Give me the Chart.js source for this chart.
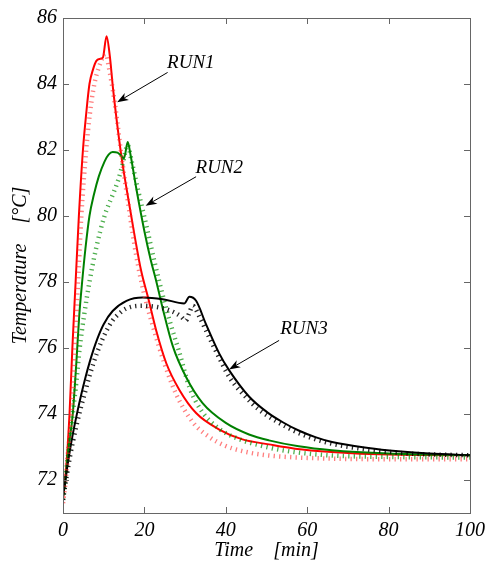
<!DOCTYPE html>
<html>
<head>
<meta charset="utf-8">
<script src="https://cdn.jsdelivr.net/npm/chart.js@4.4.1/dist/chart.umd.min.js"></script>
<style>
  html, body { margin: 0; padding: 0; background: #fff; }
  canvas { display: block; }
</style>
</head>
<body>
<canvas id="tempChart" width="491" height="567"></canvas>
<script>
/* ---------- DATA ---------- */
const xTicks = [0, 20, 40, 60, 80, 100];
const yTicks = [72, 74, 76, 78, 80, 82, 84, 86];

// RUN1 (red)
const run1SolidT = [0, 0.4, 0.8, 1.6, 2.3, 3.1, 3.9, 4.9, 5.7, 6.5, 7.4, 8.2, 9.0, 9.8, 10.7, 11.5, 12.3, 14.3, 15.6, 17.6, 19.2, 20.9, 22.9, 25.4, 28.6, 32.7, 38.4, 44.1, 50.6, 57, 66, 80, 100];
const run1SolidV = [71.4, 71.9, 72.4, 74.0, 76.0, 78.0, 80.0, 82.0, 83.1, 84.0, 84.45, 84.7, 84.76, 84.8, 85.45, 84.85, 83.85, 81.85, 80.84, 79.4, 78.34, 77.53, 76.53, 75.53, 74.73, 74.03, 73.53, 73.23, 73.08, 72.95, 72.85, 72.77, 72.75];
const run1DotT = [0, 0.6, 1.2, 2.2, 2.9, 3.7, 4.5, 5.7, 6.6, 7.7, 8.8, 10.0, 10.6, 11.2, 12.7, 14.5, 16, 18, 20, 22, 25, 28, 31.9, 36, 40, 45, 50, 60, 80, 100];
const run1DotV = [71.3, 71.9, 72.8, 74.2, 76.0, 78.0, 80.0, 82.0, 83.1, 84.0, 84.5, 84.85, 84.9, 84.55, 83.45, 81.7, 80.4, 78.8, 77.6, 76.7, 75.5, 74.55, 73.75, 73.3, 73.03, 72.85, 72.75, 72.67, 72.63, 72.63];

// RUN2 (green)
const run2SolidT = [0, 0.5, 1.3, 2.4, 3.3, 4.0, 4.7, 5.5, 6.5, 7.6, 8.8, 10.2, 11.2, 12.2, 13.4, 14.5, 15.0, 15.9, 16.6, 18.0, 20.0, 21.5, 22.9, 24.5, 27.0, 30.2, 34.3, 40, 45.7, 50.6, 57.9, 66, 80, 100];
const run2SolidV = [71.5, 71.9, 72.9, 74.0, 75.6, 77.0, 78.0, 79.0, 80.0, 80.65, 81.2, 81.65, 81.86, 81.94, 81.92, 81.8, 81.75, 82.24, 81.85, 80.84, 79.54, 78.7, 78.03, 77.2, 76.05, 75.13, 74.33, 73.73, 73.38, 73.2, 73.02, 72.9, 72.8, 72.75];
const run2DotT = [0, 0.7, 1.5, 2.4, 3.3, 4.1, 5.2, 6.5, 8.1, 10.2, 12.2, 13.6, 14.7, 15.9, 16.8, 18.5, 20.5, 22.5, 24.5, 26.5, 28.5, 31.1, 34, 38.4, 43, 49, 55, 65, 80, 100];
const run2DotV = [71.4, 72.2, 73.0, 74.0, 75.0, 76.0, 77.0, 78.0, 79.0, 80.0, 80.64, 81.1, 81.6, 82.15, 81.7, 80.75, 79.7, 78.6, 77.6, 76.7, 75.9, 74.8, 74.1, 73.55, 73.25, 73.03, 72.88, 72.75, 72.7, 72.68];

// RUN3 (black)
const run3SolidT = [0, 0.5, 1.0, 1.7, 2.5, 3.5, 4.5, 5.5, 6.5, 7.5, 8.5, 10, 12.2, 15.6, 19.6, 24.5, 29.8, 31.05, 32.7, 35.1, 38.4, 40.8, 45.7, 50.2, 54, 57.9, 62, 66.1, 75, 82.4, 90, 100];
const run3SolidV = [71.5, 71.9, 72.35, 72.9, 73.45, 74.05, 74.6, 75.1, 75.55, 75.95, 76.3, 76.72, 77.12, 77.43, 77.53, 77.48, 77.35, 77.55, 77.43, 76.73, 75.83, 75.33, 74.53, 74.05, 73.75, 73.5, 73.3, 73.15, 72.97, 72.87, 72.8, 72.75];
const run3DotT = [0, 0.5, 1.0, 1.7, 2.5, 3.5, 4.5, 5.5, 6.5, 7.5, 8.5, 10, 12, 13.6, 15.6, 19.6, 24, 27, 29, 30.2, 31.0, 31.9, 33.5, 35.9, 38.4, 40.8, 45, 48.2, 55, 60, 66, 75, 85, 100];
const run3DotV = [71.4, 71.8, 72.2, 72.7, 73.2, 73.75, 74.25, 74.7, 75.15, 75.55, 75.9, 76.35, 76.8, 77.02, 77.2, 77.28, 77.22, 77.1, 76.95, 76.83, 77.05, 77.28, 76.95, 76.33, 75.7, 75.13, 74.5, 74.13, 73.6, 73.32, 73.1, 72.92, 72.8, 72.75];

// annotations: label, label position, arrow start, arrow tip (data units)
const labels = ["RUN1", "RUN2", "RUN3"];
const labelAt = [[31.4, 84.65], [38.4, 81.45], [59.2, 76.58]];
const arrowFrom = [[25.7, 84.35], [32.7, 81.19], [53.1, 76.23]];
const arrowTo = [[13.3, 83.45], [20.3, 80.31], [40.8, 75.35]];

/* ---------- HELPERS ---------- */
const FONT = "'Liberation Serif', 'Times New Roman', serif";
const pts = (t, v) => t.map((x, i) => ({ x: x, y: v[i] }));

function solid(t, v, color) {
  return { data: pts(t, v), borderColor: color, borderWidth: 2, pointRadius: 0,
           cubicInterpolationMode: "monotone", fill: false };
}
function dotted(t, v, color) {
  return { data: pts(t, v), borderColor: color, borderWidth: 4.5, borderDash: [1.3, 4.2],
           borderCapStyle: "butt", pointRadius: 0, cubicInterpolationMode: "monotone", fill: false };
}

/* ---------- BOX, INNER TICKS, ARROWS ---------- */
const framePlugin = {
  id: "frame",
  afterDraw(chart) {
    const { ctx, chartArea: a, scales: { x, y } } = chart;
    ctx.save();
    ctx.strokeStyle = "#666";
    ctx.lineWidth = 1;
    ctx.strokeRect(a.left + 0.5, a.top + 0.5, a.right - a.left, a.bottom - a.top);
    ctx.beginPath();
    xTicks.forEach(v => {
      const px = Math.round(x.getPixelForValue(v)) + 0.5;
      ctx.moveTo(px, a.bottom); ctx.lineTo(px, a.bottom - 6);
      ctx.moveTo(px, a.top); ctx.lineTo(px, a.top + 6);
    });
    yTicks.forEach(v => {
      const py = Math.round(y.getPixelForValue(v)) + 0.5;
      ctx.moveTo(a.left, py); ctx.lineTo(a.left + 6, py);
      ctx.moveTo(a.right, py); ctx.lineTo(a.right - 6, py);
    });
    ctx.stroke();

    // labels with arrows
    ctx.fillStyle = "#000";
    ctx.strokeStyle = "#000";
    ctx.font = "italic 19px " + FONT;
    ctx.textAlign = "center";
    ctx.textBaseline = "middle";
    labels.forEach((txt, i) => {
      ctx.fillText(txt, x.getPixelForValue(labelAt[i][0]), y.getPixelForValue(labelAt[i][1]));
      const x0 = x.getPixelForValue(arrowFrom[i][0]), y0 = y.getPixelForValue(arrowFrom[i][1]);
      const x1 = x.getPixelForValue(arrowTo[i][0]), y1 = y.getPixelForValue(arrowTo[i][1]);
      const ang = Math.atan2(y1 - y0, x1 - x0);
      ctx.lineWidth = 1;
      ctx.beginPath();
      ctx.moveTo(x0, y0);
      ctx.lineTo(x1 - 6 * Math.cos(ang), y1 - 6 * Math.sin(ang));
      ctx.stroke();
      // head
      ctx.beginPath();
      ctx.moveTo(x1, y1);
      ctx.lineTo(x1 - 12 * Math.cos(ang - 0.35), y1 - 12 * Math.sin(ang - 0.35));
      ctx.lineTo(x1 - 8 * Math.cos(ang), y1 - 8 * Math.sin(ang));
      ctx.lineTo(x1 - 12 * Math.cos(ang + 0.35), y1 - 12 * Math.sin(ang + 0.35));
      ctx.closePath();
      ctx.fill();
    });
    ctx.restore();
  }
};

/* ---------- CHART ---------- */
new Chart(document.getElementById("tempChart"), {
  type: "line",
  data: {
    datasets: [
      dotted(run3DotT, run3DotV, "rgba(0,0,0,0.85)"),
      dotted(run2DotT, run2DotV, "rgba(0,140,0,0.7)"),
      dotted(run1DotT, run1DotV, "rgba(255,40,40,0.6)"),
      solid(run3SolidT, run3SolidV, "#000"),
      solid(run2SolidT, run2SolidV, "#008000"),
      solid(run1SolidT, run1SolidV, "#ff0000")
    ]
  },
  options: {
    responsive: false,
    animation: false,
    devicePixelRatio: 1,
    layout: { padding: { top: 15, right: 19, left: 0, bottom: 0 } },
    plugins: { legend: { display: false }, tooltip: { enabled: false } },
    scales: {
      x: {
        type: "linear", min: 0, max: 100,
        afterBuildTicks: s => { s.ticks = xTicks.map(v => ({ value: v })); },
        afterFit: s => { s.height = 54; },
        grid: { display: false, drawTicks: false },
        border: { display: false },
        ticks: { color: "#000", padding: 6, maxRotation: 0, font: { family: FONT, size: 20, style: "italic" } },
        title: { display: true, text: "Time    [min]", color: "#000", padding: { top: 0, bottom: 4 },
                 font: { family: FONT, size: 20, style: "italic" } }
      },
      y: {
        type: "linear", min: 71, max: 86,
        afterBuildTicks: s => { s.ticks = yTicks.map(v => ({ value: v })); },
        afterFit: s => { s.width = 63; },
        grid: { display: false, drawTicks: false },
        border: { display: false },
        ticks: { color: "#000", padding: 6, font: { family: FONT, size: 20, style: "italic" } },
        title: { display: true, text: "Temperature    [°C]", color: "#000", padding: { top: 9, bottom: 0 },
                 font: { family: FONT, size: 20, style: "italic" } }
      }
    }
  },
  plugins: [framePlugin]
});
</script>
</body>
</html>
